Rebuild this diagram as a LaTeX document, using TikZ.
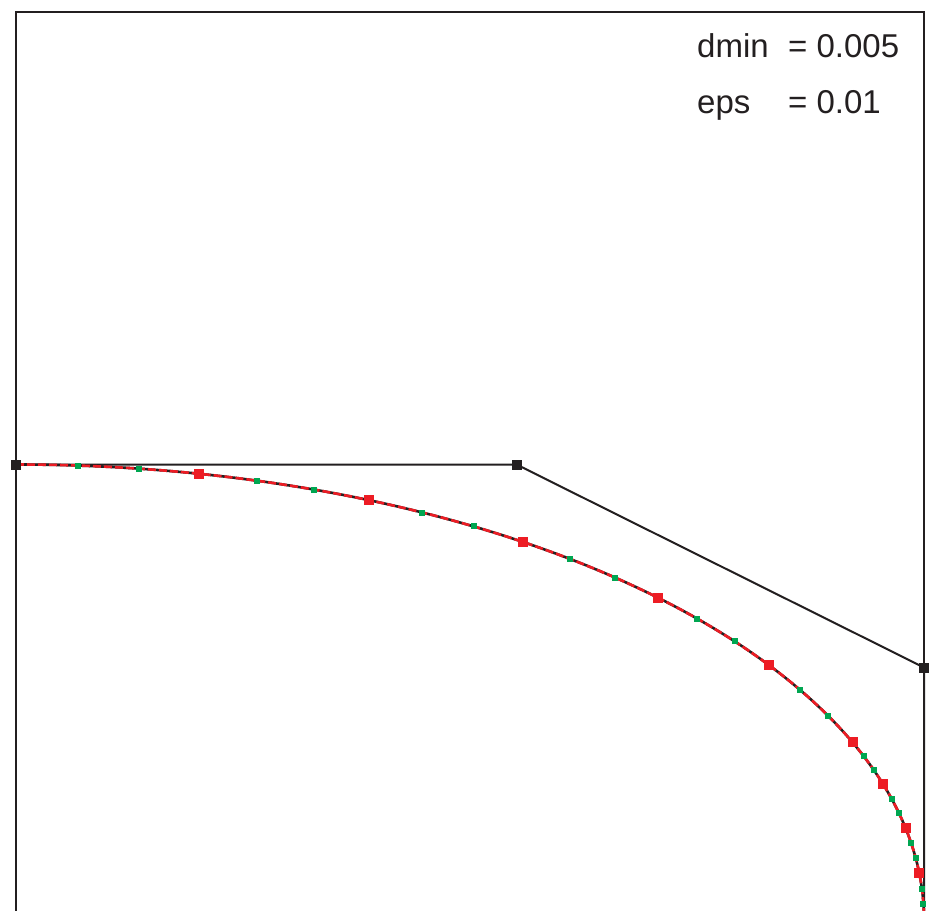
\documentclass[tikz,border=0pt]{standalone}
\usepackage{fontspec}
\setmainfont{Liberation Sans}
\definecolor{ink}{HTML}{231F20}
\definecolor{mred}{HTML}{ED1C24}
\definecolor{mgreen}{HTML}{00A651}
\tikzset{
  frameline/.style={draw=ink, line width=2.2pt},
  polyline/.style={draw=ink, line width=2pt},
  curveblack/.style={draw=ink, line width=2.6pt},
  curvered/.style={draw=mred, line width=2.6pt, dash pattern=on 8pt off 3pt},
  ctrlsq/.style={rectangle, fill=ink, inner sep=0pt, minimum size=10pt},
  redsq/.style={rectangle, fill=mred, inner sep=0pt, minimum size=10pt},
  greensq/.style={rectangle, fill=mgreen, inner sep=0pt, minimum size=6pt},
  label/.style={anchor=base west, inner sep=0pt, font=\fontsize{33}{40}\selectfont, text=ink}
}
\begin{document}
\begin{tikzpicture}[x=1pt,y=-1pt]
\useasboundingbox (0,0) rectangle (939,910);
\clip (0,0) rectangle (939,910);
\coordinate (P0) at (16,464.5);
\coordinate (P1) at (516.5,464.5);
\coordinate (P2) at (924,667.5);
\coordinate (P3) at (924,920);
% frame
\draw[frameline] (16,12) rectangle (924,920);
% control polygon
\draw[polyline] (P0) -- (P1) -- (P2) -- (P3);
% curve
\draw[curveblack] (P0) .. controls (P1) and (P2) .. (P3);
\draw[curvered] (P0) .. controls (P1) and (P2) .. (P3);
% green subdivision points
\foreach \t [count=\i] in {0.041667,0.083333,0.166667,0.208333,0.291667,0.333333,0.416667,0.458333,0.541667,0.583333,0.666667,0.708333,0.770833,0.791667,0.833333,0.854167,0.895833,0.916667,0.958333,0.979167}
  \path (P0) .. controls (P1) and (P2) .. (P3) node[greensq, pos=\t] (g\i) {};
% red points
\foreach \t [count=\i] in {0.125,0.25,0.375,0.5,0.625,0.75,0.8125,0.875,0.9375}
  \path (P0) .. controls (P1) and (P2) .. (P3) node[redsq, pos=\t] (r\i) {};
% control points
\node[ctrlsq] (c0) at (P0) {};
\node[ctrlsq] (c1) at (P1) {};
\node[ctrlsq] (c2) at (P2) {};
% labels
\node[label] (dminl) at (697,57) {dmin};
\node[label] (dminv) at (788,57) {= 0.005};
\node[label] (epsl) at (697,113) {eps};
\node[label] (epsv) at (788,113) {= 0.01};
\end{tikzpicture}
\end{document}
